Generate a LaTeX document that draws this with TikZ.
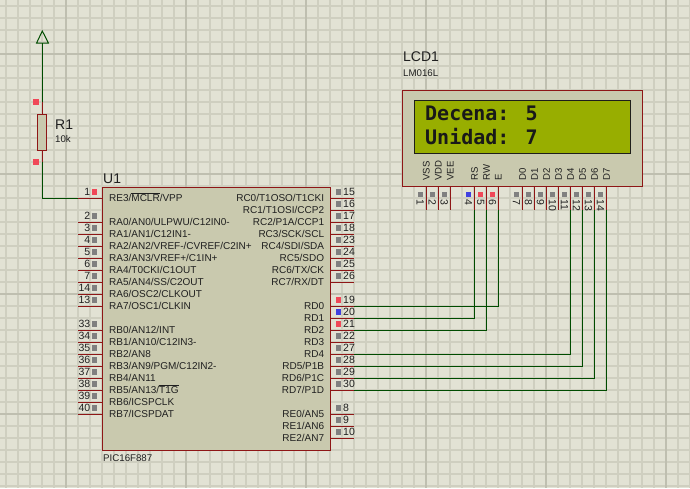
\documentclass[tikz,border=0pt]{standalone}
\usepackage{fontspec}
\setmainfont{Liberation Sans}
\newfontfamily\lcdfont{DejaVu Sans Mono}
\usetikzlibrary{calc}
\definecolor{bgc}{HTML}{E2E2D4}
\definecolor{gridc}{HTML}{CFCFC0}
\definecolor{gridm}{HTML}{BFBFB0}
\definecolor{chipc}{HTML}{C9C9AE}
\definecolor{edgec}{HTML}{8E1616}
\definecolor{wirec}{HTML}{004C00}
\definecolor{screenc}{HTML}{98AE00}
\definecolor{inkc}{HTML}{202020}
\definecolor{gry}{HTML}{808080}
\definecolor{redp}{HTML}{F04858}
\definecolor{blup}{HTML}{4040E0}
\newcommand\ob[1]{\ensuremath{\overline{\mbox{#1}}}}
\tikzset{
  comp/.style={draw=edgec,fill=chipc,line width=1pt,inner sep=0pt},
  stub/.style={draw=edgec,line width=1pt},
  wire/.style={draw=wirec,line width=1pt},
  pintxt/.style={font=\fontsize{10}{10}\selectfont,text=inkc,inner sep=0pt},
  numtxt/.style={font=\fontsize{10.5}{10.5}\selectfont,text=inkc,inner sep=0pt},
  bigtxt/.style={font=\fontsize{14}{14}\selectfont,text=inkc,inner sep=0pt,anchor=base west},
  smalltxt/.style={font=\fontsize{9.7}{9.7}\selectfont,text=inkc,inner sep=0pt,anchor=base west},
  sq/.style={minimum size=5.4pt,inner sep=0pt,fill=#1},
  lcdtxt/.style={font=\lcdfont\bfseries\fontsize{20}{20}\selectfont,text=black!90,inner sep=0pt,anchor=base west}
}
\begin{document}
\begin{tikzpicture}[x=1pt,y=-1pt]
\useasboundingbox (0,0) rectangle (690,488);
\fill[bgc] (0,0) rectangle (690,488);
% grid
\foreach \g in {6,18,...,690} \draw[gridc,line width=1.1pt] (\g,0) -- (\g,488);
\foreach \g in {6,18,...,486} \draw[gridc,line width=1.1pt] (0,\g) -- (690,\g);
\foreach \g in {66,186,306,426,546,666} \draw[gridm,line width=2pt] (\g,0) -- (\g,488);
\foreach \g in {54,174,294,414} \draw[gridm,line width=2pt] (0,\g) -- (690,\g);

% ---------- resistor
\coordinate (pwr) at (42.3,43);
\coordinate (rtop) at (42.3,102);
\coordinate (rbot) at (42.3,162);
\node[comp,minimum width=9pt,minimum height=36pt] (R1) at (42.3,132) {};
\draw[stub] (rtop) -- (R1.north);
\draw[stub] (rbot) -- (R1.south);
\node[sq=redp] (rs1) at (36,102) {};
\node[sq=redp] (rs2) at (36,162) {};
\node[bigtxt] (r1name) at (55,129) {R1};
\node[smalltxt] (r1val) at (55,142) {10k};

% power terminal
\draw[wire,line join=miter] (36.6,43) -- (42.3,31) -- (48.4,43) -- cycle;
\draw[wire] (pwr) -- (rtop);

% ---------- chip
\node[comp,minimum width=228pt,minimum height=263pt] (chip) at (216,318.5) {};
\node[bigtxt] (u1name) at (103,183) {U1};
\node[smalltxt] (u1type) at (103,461) {PIC16F887};

\foreach \n/\y/\c/\t in {
  1/198/redp/{RE3/\ob{MCLR}/VPP},
  2/222/gry/{RA0/AN0/ULPWU/C12IN0-},
  3/234/gry/{RA1/AN1/C12IN1-},
  4/246/gry/{RA2/AN2/VREF-/CVREF/C2IN+},
  5/258/gry/{RA3/AN3/VREF+/C1IN+},
  6/270/gry/{RA4/T0CKI/C1OUT},
  7/282/gry/{RA5/AN4/SS/C2OUT},
  14/294/gry/{RA6/OSC2/CLKOUT},
  13/306/gry/{RA7/OSC1/CLKIN},
  33/330/gry/{RB0/AN12/INT},
  34/342/gry/{RB1/AN10/C12IN3-},
  35/354/gry/{RB2/AN8},
  36/366/gry/{RB3/AN9/PGM/C12IN2-},
  37/378/gry/{RB4/AN11},
  38/390/gry/{RB5/AN13/\ob{T1G}},
  39/402/gry/{RB6/ICSPCLK},
  40/414/gry/{RB7/ICSPDAT}}{
  \coordinate (U\n) at (78,\y);
  \draw[stub] (U\n) -- (U\n -| chip.west);
  \node[sq=\c] (us\n) at (94.5,\y-6) {};
  \node[numtxt,anchor=east] (un\n) at (90.5,\y-6) {\n};
  \node[pintxt,anchor=base west] (ut\n) at (109,\y+3.6) {\t};
}
\foreach \n/\y/\c/\t in {
  15/198/gry/{RC0/T1OSO/T1CKI},
  16/210/gry/{RC1/T1OSI/CCP2},
  17/222/gry/{RC2/P1A/CCP1},
  18/234/gry/{RC3/SCK/SCL},
  23/246/gry/{RC4/SDI/SDA},
  24/258/gry/{RC5/SDO},
  25/270/gry/{RC6/TX/CK},
  26/282/gry/{RC7/RX/DT},
  19/306/redp/{RD0},
  20/318/blup/{RD1},
  21/330/redp/{RD2},
  22/342/gry/{RD3},
  27/354/gry/{RD4},
  28/366/gry/{RD5/P1B},
  29/378/gry/{RD6/P1C},
  30/390/gry/{RD7/P1D},
  8/414/gry/{RE0/AN5},
  9/426/gry/{RE1/AN6},
  10/438/gry/{RE2/AN7}}{
  \coordinate (U\n) at (354,\y);
  \draw[stub] (U\n) -- (U\n -| chip.east);
  \node[sq=\c] (us\n) at (338.5,\y-6) {};
  \node[numtxt,anchor=west] (un\n) at (343,\y-6) {\n};
  \node[pintxt,anchor=base east] (ut\n) at (324.3,\y+3.6) {\t};
}

% ---------- LCD
\node[comp,minimum width=239.5pt,minimum height=95.5pt] (LCD) at (522.3,138.5) {};
\node[draw=black!85!chipc,fill=screenc,line width=1pt,inner sep=0pt,minimum width=216pt,minimum height=52.6pt] (screen) at (522.4,127) {};
\node[lcdtxt] (line1) at (425,120.7) {Decena: 5};
\node[lcdtxt] (line2) at (425,144.7) {Unidad: 7};
\node[bigtxt] (lcdname) at (403,61.7) {LCD1};
\node[smalltxt] (lcdtype) at (403,76) {LM016L};

\foreach \n/\x/\c/\t in {
  1/426.3/gry/VSS,
  2/438.3/gry/VDD,
  3/450.3/gry/VEE,
  4/474.6/blup/RS,
  5/486.6/redp/RW,
  6/498.4/redp/E,
  7/522.6/gry/D0,
  8/534.6/gry/D1,
  9/546.6/gry/D2,
  10/558.6/gry/D3,
  11/570.6/gry/D4,
  12/582.6/gry/D5,
  13/594.6/gry/D6,
  14/606.6/gry/D7}{
  \coordinate (P\n) at (\x,210);
  \draw[stub] (P\n) -- (P\n |- LCD.south);
  \node[sq=\c] (ps\n) at (\x-6,194.3) {};
  \node[numtxt,rotate=-90,anchor=west] (pn\n) at (\x-6,199) {\n};
  \node[pintxt,rotate=90,anchor=west,font=\fontsize{9.6}{9.6}\selectfont] (pt\n) at (\x,180.8) {\t};
}

% ---------- wires
\draw[wire] (rbot) |- (U1);
\draw[wire] (P6) |- (U19);
\draw[wire] (P4) |- (U20);
\draw[wire] (P5) |- (U21);
\draw[wire] (P11) |- (U27);
\draw[wire] (P12) |- (U28);
\draw[wire] (P13) |- (U29);
\draw[wire] (P14) |- (U30);
\end{tikzpicture}
\end{document}
